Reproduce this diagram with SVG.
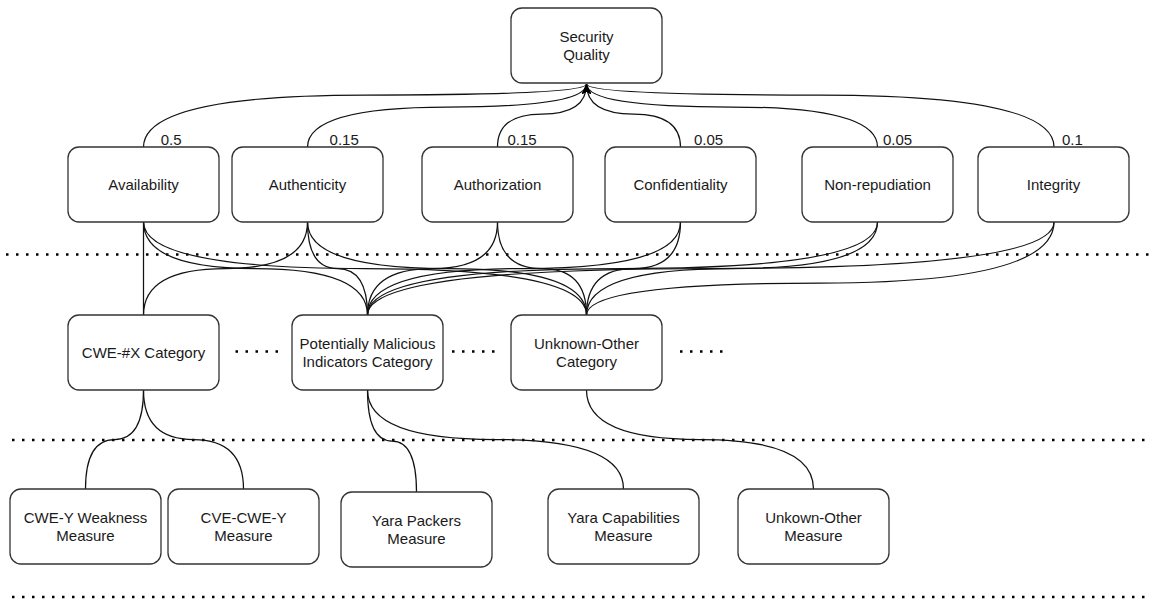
<svg xmlns="http://www.w3.org/2000/svg" width="1152" height="599" viewBox="0 0 1152 599">
  <style>
    .box { fill: #ffffff; stroke: #333333; stroke-width: 1.3; }
    .lbl { font-family: "Liberation Sans", Arial, sans-serif; font-size: 15px; fill: #1a1a1a; text-anchor: middle; }
    .w { font-family: "Liberation Sans", Arial, sans-serif; font-size: 15px; fill: #1a1a1a; }
    .edge { fill: none; stroke: #111111; stroke-width: 1.25; }
    .sep { stroke: #000000; stroke-width: 2.5; stroke-dasharray: 2.5 7.5; fill: none; }
  </style>
  <defs>
    <marker id="arrow" markerUnits="userSpaceOnUse" markerWidth="10" markerHeight="10" viewBox="0 0 10 10" refX="10" refY="5" orient="auto">
      <path d="M0,0.5 L10,5 L0,9.5 L2.5,5 Z" fill="#000000"/>
    </marker>
  </defs>
  <rect width="1152" height="599" fill="#ffffff"/>

  <!-- level separators -->
  <g id="separators">
    <line class="sep" x1="6" y1="254.5" x2="1152" y2="254.5"/>
    <line class="sep" x1="12" y1="440" x2="1152" y2="440"/>
    <line class="sep" x1="12" y1="597" x2="1152" y2="597"/>
    <line class="sep" x1="235.5" y1="351.5" x2="278" y2="351.5"/>
    <line class="sep" x1="452" y1="351.5" x2="494.5" y2="351.5"/>
    <line class="sep" x1="680" y1="351.5" x2="722.5" y2="351.5"/>
  </g>

  <g id="connectors">
    <!-- characteristics to Security Quality -->
    <path class="edge" marker-end="url(#arrow)" d="M143.5,147 Q143.5,95 365,95 Q586.5,95 586.5,84"/>
    <path class="edge" marker-end="url(#arrow)" d="M307.5,147 Q307.5,107 447,107 Q586.5,107 586.5,84"/>
    <path class="edge" marker-end="url(#arrow)" d="M497.5,147 Q497.5,114 542,114 Q586.5,114 586.5,84"/>
    <path class="edge" marker-end="url(#arrow)" d="M680.5,147 Q680.5,114 633.5,114 Q586.5,114 586.5,84"/>
    <path class="edge" marker-end="url(#arrow)" d="M877.5,147 Q877.5,107 732,107 Q586.5,107 586.5,84"/>
    <path class="edge" marker-end="url(#arrow)" d="M1054,147 Q1054,95 820,95 Q586.5,95 586.5,84"/>

    <!-- categories to characteristics -->
    <path class="edge" d="M143.5,222 L143.5,315"/>
    <path class="edge" d="M143.5,222 Q143.5,268.5 255.5,268.5 Q367.5,268.5 367.5,315"/>
    <path class="edge" d="M143.5,222 Q143.5,268.5 365,268.5 Q586.5,268.5 586.5,315"/>
    <path class="edge" d="M307.5,222 Q307.5,268.5 225.5,268.5 Q143.5,268.5 143.5,315"/>
    <path class="edge" d="M307.5,222 Q307.5,268.5 337.5,268.5 Q367.5,268.5 367.5,315"/>
    <path class="edge" d="M307.5,222 Q307.5,268.5 447,268.5 Q586.5,268.5 586.5,315"/>
    <path class="edge" d="M497.5,222 Q497.5,268.5 432.5,268.5 Q367.5,268.5 367.5,315"/>
    <path class="edge" d="M497.5,222 Q497.5,268.5 542,268.5 Q586.5,268.5 586.5,315"/>
    <path class="edge" d="M680.5,222 Q680.5,268.5 524,268.5 Q367.5,268.5 367.5,315"/>
    <path class="edge" d="M680.5,222 Q680.5,268.5 633.5,268.5 Q586.5,268.5 586.5,315"/>
    <path class="edge" d="M877.5,222 Q877.5,268.5 622.5,268.5 Q367.5,268.5 367.5,315"/>
    <path class="edge" d="M877.5,222 Q877.5,268.5 732,268.5 Q586.5,268.5 586.5,315"/>
    <path class="edge" d="M1054,222 Q1054,268.5 710.75,268.5 Q367.5,268.5 367.5,315"/>
    <path class="edge" d="M1054,222 Q1054,283 820.25,283 Q586.5,283 586.5,315"/>

    <!-- measures to categories -->
    <path class="edge" d="M143.5,390 Q143.5,439.5 114.5,439.5 Q85.5,439.5 85.5,489"/>
    <path class="edge" d="M143.5,390 Q143.5,439.5 193.5,439.5 Q243.5,439.5 243.5,489"/>
    <path class="edge" d="M367.5,390 Q367.5,441 392,441 Q416.5,441 416.5,492"/>
    <path class="edge" d="M367.5,390 Q367.5,439.5 495.5,439.5 Q623.5,439.5 623.5,489"/>
    <path class="edge" d="M586.5,390 Q586.5,439.5 700,439.5 Q813.5,439.5 813.5,489"/>

    <!-- weights -->
    <text class="w" x="160.7" y="144.5">0.5</text>
    <text class="w" x="329.6" y="144.5">0.15</text>
    <text class="w" x="507.5" y="144.5">0.15</text>
    <text class="w" x="694" y="144.5">0.05</text>
    <text class="w" x="883" y="144.5">0.05</text>
    <text class="w" x="1062" y="144.5">0.1</text>
  </g>

  <g id="security-quality">
    <rect class="box" x="511" y="8" width="151" height="75" rx="11"/>
    <text class="lbl" x="586.5" y="42">Security</text>
    <text class="lbl" x="586.5" y="60">Quality</text>
  </g>

  <g id="availability">
    <rect class="box" x="68" y="147" width="151" height="75" rx="11"/>
    <text class="lbl" x="143.5" y="190">Availability</text>
  </g>
  <g id="authenticity">
    <rect class="box" x="232" y="147" width="151" height="75" rx="11"/>
    <text class="lbl" x="307.5" y="190">Authenticity</text>
  </g>
  <g id="authorization">
    <rect class="box" x="422" y="147" width="151" height="75" rx="11"/>
    <text class="lbl" x="497.5" y="190">Authorization</text>
  </g>
  <g id="confidentiality">
    <rect class="box" x="605" y="147" width="151" height="75" rx="11"/>
    <text class="lbl" x="680.5" y="190">Confidentiality</text>
  </g>
  <g id="non-repudiation">
    <rect class="box" x="802" y="147" width="151" height="75" rx="11"/>
    <text class="lbl" x="877.5" y="190">Non-repudiation</text>
  </g>
  <g id="integrity">
    <rect class="box" x="978" y="147" width="151" height="75" rx="11"/>
    <text class="lbl" x="1053.5" y="190">Integrity</text>
  </g>

  <g id="cwe-x-category">
    <rect class="box" x="68" y="315" width="151" height="75" rx="11"/>
    <text class="lbl" x="143.5" y="358">CWE-#X Category</text>
  </g>
  <g id="malicious-indicators-category">
    <rect class="box" x="292" y="315" width="151" height="75" rx="11"/>
    <text class="lbl" x="367.5" y="349">Potentially Malicious</text>
    <text class="lbl" x="367.5" y="367">Indicators Category</text>
  </g>
  <g id="unknown-other-category">
    <rect class="box" x="511" y="315" width="151" height="75" rx="11"/>
    <text class="lbl" x="586.5" y="349">Unknown-Other</text>
    <text class="lbl" x="586.5" y="367">Category</text>
  </g>

  <g id="cwe-y-weakness-measure">
    <rect class="box" x="10" y="489" width="151" height="75" rx="11"/>
    <text class="lbl" x="85.5" y="523">CWE-Y Weakness</text>
    <text class="lbl" x="85.5" y="541">Measure</text>
  </g>
  <g id="cve-cwe-y-measure">
    <rect class="box" x="168" y="489" width="151" height="75" rx="11"/>
    <text class="lbl" x="243.5" y="523">CVE-CWE-Y</text>
    <text class="lbl" x="243.5" y="541">Measure</text>
  </g>
  <g id="yara-packers-measure">
    <rect class="box" x="341" y="492" width="151" height="75" rx="11"/>
    <text class="lbl" x="416.5" y="526">Yara Packers</text>
    <text class="lbl" x="416.5" y="544">Measure</text>
  </g>
  <g id="yara-capabilities-measure">
    <rect class="box" x="548" y="489" width="151" height="75" rx="11"/>
    <text class="lbl" x="623.5" y="523">Yara Capabilities</text>
    <text class="lbl" x="623.5" y="541">Measure</text>
  </g>
  <g id="unknown-other-measure">
    <rect class="box" x="738" y="489" width="151" height="75" rx="11"/>
    <text class="lbl" x="813.5" y="523">Unkown-Other</text>
    <text class="lbl" x="813.5" y="541">Measure</text>
  </g>
</svg>
